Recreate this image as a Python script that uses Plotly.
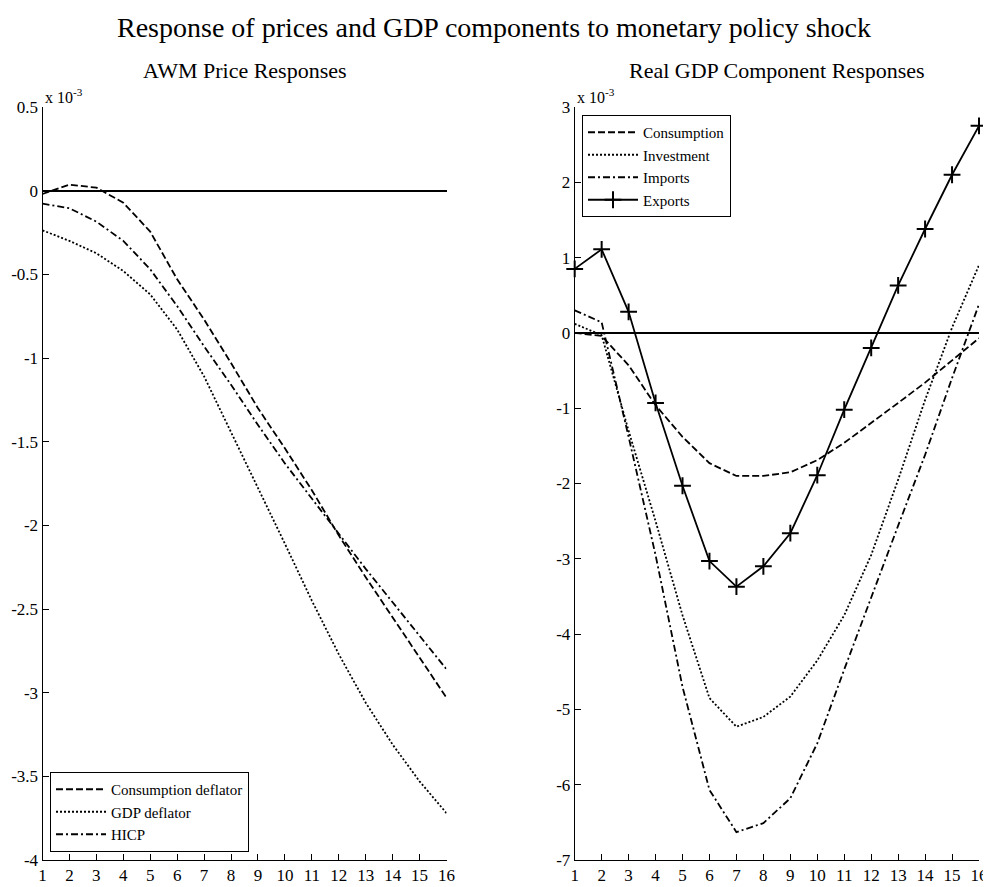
import plotly.graph_objects as go

# Horizon (quarters)
horizon = list(range(1, 17))

# AWM price responses (units of 1e-3)
cons_deflator = [-0.02, 0.036, 0.018, -0.072, -0.245, -0.53, -0.77, -1.03, -1.30, -1.54, -1.79, -2.06, -2.31, -2.55, -2.79, -3.03]
gdp_deflator = [-0.237, -0.30, -0.374, -0.48, -0.62, -0.83, -1.11, -1.44, -1.78, -2.11, -2.45, -2.77, -3.06, -3.31, -3.53, -3.72]
hicp = [-0.078, -0.105, -0.185, -0.30, -0.47, -0.69, -0.93, -1.16, -1.40, -1.63, -1.84, -2.05, -2.26, -2.46, -2.66, -2.86]

# Real GDP component responses (units of 1e-3)
consumption = [0.0, -0.04, -0.43, -0.96, -1.38, -1.73, -1.90, -1.90, -1.85, -1.69, -1.46, -1.20, -0.93, -0.66, -0.37, -0.07]
investment = [0.12, -0.03, -1.30, -2.50, -3.75, -4.85, -5.23, -5.10, -4.83, -4.35, -3.75, -2.95, -1.95, -0.89, 0.07, 0.90]
imports = [0.30, 0.14, -1.38, -2.95, -4.70, -6.07, -6.63, -6.51, -6.18, -5.45, -4.47, -3.51, -2.56, -1.62, -0.60, 0.38]
exports = [0.85, 1.11, 0.28, -0.93, -2.03, -3.03, -3.37, -3.10, -2.66, -1.89, -1.02, -0.20, 0.63, 1.38, 2.10, 2.75]

left_ticks = [0.5, 0, -0.5, -1, -1.5, -2, -2.5, -3, -3.5, -4]
left_ticktext = ["0.5", "0", "-0.5", "-1", "-1.5", "-2", "-2.5", "-3", "-3.5", "-4"]
right_ticks = [3, 2, 1, 0, -1, -2, -3, -4, -5, -6, -7]
right_ticktext = ["3", "2", "1", "0", "-1", "-2", "-3", "-4", "-5", "-6", "-7"]

FONT = "Liberation Serif, Times New Roman, serif"
DASH = "7px,3px"
DOT = "2px,2px"
DASHDOT = "7px,3px,2px,3px"
LW = 1.8

W, H = 983, 879  # page body has an 8px margin


def px(x):
    return x / W


def py(y):
    return 1 - y / H


fig = go.Figure()

# Left panel
fig.add_trace(go.Scatter(x=horizon, y=cons_deflator, mode="lines", name="Consumption deflator",
                         line=dict(color="black", width=LW, dash=DASH), xaxis="x", yaxis="y", legend="legend"))
fig.add_trace(go.Scatter(x=horizon, y=gdp_deflator, mode="lines", name="GDP deflator",
                         line=dict(color="black", width=LW, dash=DOT), xaxis="x", yaxis="y", legend="legend"))
fig.add_trace(go.Scatter(x=horizon, y=hicp, mode="lines", name="HICP",
                         line=dict(color="black", width=LW, dash=DASHDOT), xaxis="x", yaxis="y", legend="legend"))

# Right panel
fig.add_trace(go.Scatter(x=horizon, y=consumption, mode="lines", name="Consumption",
                         line=dict(color="black", width=LW, dash=DASH), xaxis="x2", yaxis="y2", legend="legend2"))
fig.add_trace(go.Scatter(x=horizon, y=investment, mode="lines", name="Investment",
                         line=dict(color="black", width=LW, dash=DOT), xaxis="x2", yaxis="y2", legend="legend2"))
fig.add_trace(go.Scatter(x=horizon, y=imports, mode="lines", name="Imports",
                         line=dict(color="black", width=LW, dash=DASHDOT), xaxis="x2", yaxis="y2", legend="legend2"))
fig.add_trace(go.Scatter(x=horizon, y=exports, mode="lines+markers", name="Exports",
                         line=dict(color="black", width=LW),
                         marker=dict(symbol="cross-thin", size=12, color="black", line=dict(color="black", width=2)),
                         cliponaxis=False, xaxis="x2", yaxis="y2", legend="legend2"))

axis_common = dict(showline=True, linecolor="black", linewidth=1, mirror=False, showgrid=False,
                   ticks="inside", ticklen=6, tickwidth=1, tickcolor="black", automargin=False,
                   tickfont=dict(family=FONT, size=17, color="black"))

x_common = dict(axis_common, range=[1, 16], tickvals=horizon, zeroline=False)

y_dom = [py(852), py(99)]

legend_common = dict(xanchor="left", bgcolor="white", bordercolor="black", borderwidth=1,
                     itemwidth=50, tracegroupgap=0,
                     font=dict(family=FONT, size=15, color="black"))

fig.update_layout(
    width=W, height=H,
    paper_bgcolor="white", plot_bgcolor="white",
    margin=dict(l=0, r=0, t=0, b=0, autoexpand=False),
    font=dict(family=FONT, color="black"),
    xaxis=dict(x_common, domain=[px(34.5), px(438.5)], anchor="y"),
    yaxis=dict(axis_common, domain=y_dom, anchor="x", range=[-4, 0.5],
               tickvals=left_ticks, ticktext=left_ticktext,
               zeroline=True, zerolinecolor="black", zerolinewidth=1.5),
    xaxis2=dict(x_common, domain=[px(566.7), px(971)], anchor="y2"),
    yaxis2=dict(axis_common, domain=y_dom, anchor="x2", range=[-7, 3],
                tickvals=right_ticks, ticktext=right_ticktext,
                zeroline=True, zerolinecolor="black", zerolinewidth=1.5),
    legend=dict(legend_common, x=px(42), y=py(844), yanchor="bottom"),
    legend2=dict(legend_common, x=px(574), y=py(107), yanchor="top"),
    showlegend=True,
)

annotations = [
    dict(text="Response of prices and GDP components to monetary policy shock", x=px(486), y=py(20),
         xref="paper", yref="paper", showarrow=False, font=dict(family=FONT, size=28, color="black"),
         xanchor="center", yanchor="middle"),
    dict(text="AWM Price Responses", x=px(236.5), y=py(63), xref="paper", yref="paper", showarrow=False,
         font=dict(family=FONT, size=22, color="black"), xanchor="center", yanchor="middle"),
    dict(text="Real GDP Component Responses", x=px(768.8), y=py(63), xref="paper", yref="paper", showarrow=False,
         font=dict(family=FONT, size=22, color="black"), xanchor="center", yanchor="middle"),
    dict(text="x 10<sup>-3</sup>", x=px(34.5), y=py(88), xref="paper", yref="paper", showarrow=False,
         font=dict(family=FONT, size=16, color="black"), xanchor="left", yanchor="middle"),
    dict(text="x 10<sup>-3</sup>", x=px(566.7), y=py(88), xref="paper", yref="paper", showarrow=False,
         font=dict(family=FONT, size=16, color="black"), xanchor="left", yanchor="middle"),
]
fig.update_layout(annotations=annotations)

fig.write_html("out.html")
